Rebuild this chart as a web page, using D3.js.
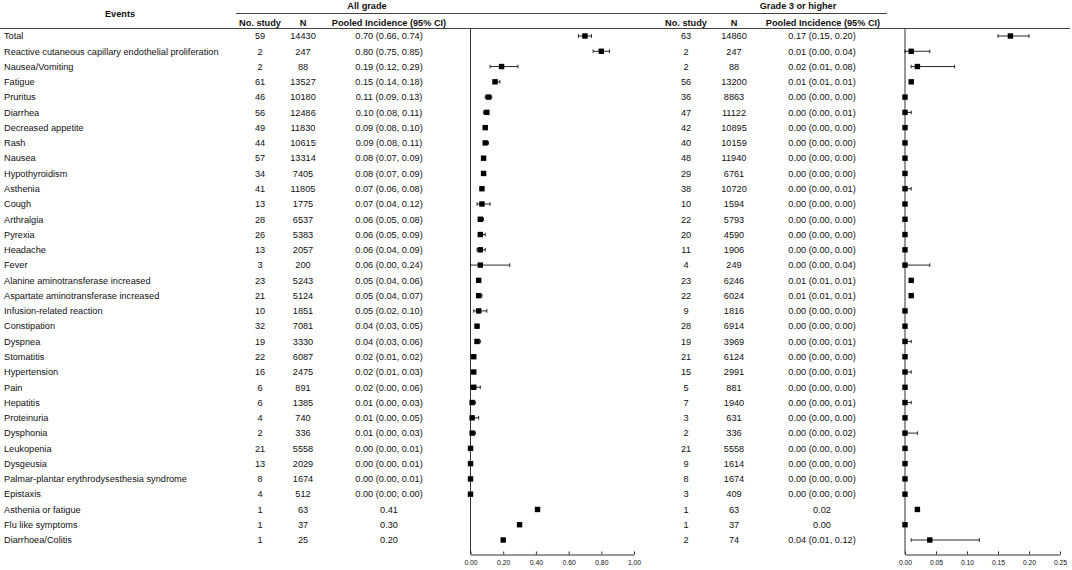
<!DOCTYPE html>
<html>
<head>
<meta charset="utf-8">
<script src="https://cdn.jsdelivr.net/npm/d3@7"></script>
<style>
  body { margin: 0; background: #fff; }
  text { font-family: "Liberation Sans", Arial, sans-serif; fill: #111; }
</style>
</head>
<body>
<script>
const width = 1072;
const height = 570;

// rows
const events = ["Total", "Reactive cutaneous capillary endothelial proliferation", "Nausea/Vomiting",
  "Fatigue", "Pruritus", "Diarrhea", "Decreased appetite", "Rash", "Nausea", "Hypothyroidism",
  "Asthenia", "Cough", "Arthralgia", "Pyrexia", "Headache", "Fever",
  "Alanine aminotransferase increased", "Aspartate aminotransferase increased",
  "Infusion-related reaction", "Constipation", "Dyspnea", "Stomatitis", "Hypertension", "Pain",
  "Hepatitis", "Proteinuria", "Dysphonia", "Leukopenia", "Dysgeusia",
  "Palmar-plantar erythrodysesthesia syndrome", "Epistaxis", "Asthenia or fatigue",
  "Flu like symptoms", "Diarrhoea/Colitis"];

// all grade
const allStudies = [59, 2, 2, 61, 46, 56, 49, 44, 57, 34, 41, 13, 28, 26, 13, 3, 23, 21, 10, 32, 19, 22, 16, 6, 6, 4, 2, 21, 13, 8, 4, 1, 1, 1];
const allN = [14430, 247, 88, 13527, 10180, 12486, 11830, 10615, 13314, 7405, 11805, 1775, 6537, 5383, 2057, 200, 5243, 5124, 1851, 7081, 3330, 6087, 2475, 891, 1385, 740, 336, 5558, 2029, 1674, 512, 63, 37, 25];
const allEst = [0.70, 0.80, 0.19, 0.15, 0.11, 0.10, 0.09, 0.09, 0.08, 0.08, 0.07, 0.07, 0.06, 0.06, 0.06, 0.06, 0.05, 0.05, 0.05, 0.04, 0.04, 0.02, 0.02, 0.02, 0.01, 0.01, 0.01, 0.00, 0.00, 0.00, 0.00, 0.41, 0.30, 0.20];
const allLo = [0.66, 0.75, 0.12, 0.14, 0.09, 0.08, 0.08, 0.08, 0.07, 0.07, 0.06, 0.04, 0.05, 0.05, 0.04, 0.00, 0.04, 0.04, 0.02, 0.03, 0.03, 0.01, 0.01, 0.00, 0.00, 0.00, 0.00, 0.00, 0.00, 0.00, 0.00, null, null, null];
const allHi = [0.74, 0.85, 0.29, 0.18, 0.13, 0.11, 0.10, 0.11, 0.09, 0.09, 0.08, 0.12, 0.08, 0.09, 0.09, 0.24, 0.06, 0.07, 0.10, 0.05, 0.06, 0.02, 0.03, 0.06, 0.03, 0.05, 0.03, 0.01, 0.01, 0.01, 0.00, null, null, null];

// grade 3 or higher
const g3Studies = [63, 2, 2, 56, 36, 47, 42, 40, 48, 29, 38, 10, 22, 20, 11, 4, 23, 22, 9, 28, 19, 21, 15, 5, 7, 3, 2, 21, 9, 8, 3, 1, 1, 2];
const g3N = [14860, 247, 88, 13200, 8863, 11122, 10895, 10159, 11940, 6761, 10720, 1594, 5793, 4590, 1906, 249, 6246, 6024, 1816, 6914, 3969, 6124, 2991, 881, 1940, 631, 336, 5558, 1614, 1674, 409, 63, 37, 74];
const g3Est = [0.17, 0.01, 0.02, 0.01, 0.00, 0.00, 0.00, 0.00, 0.00, 0.00, 0.00, 0.00, 0.00, 0.00, 0.00, 0.00, 0.01, 0.01, 0.00, 0.00, 0.00, 0.00, 0.00, 0.00, 0.00, 0.00, 0.00, 0.00, 0.00, 0.00, 0.00, 0.02, 0.00, 0.04];
const g3Lo = [0.15, 0.00, 0.01, 0.01, 0.00, 0.00, 0.00, 0.00, 0.00, 0.00, 0.00, 0.00, 0.00, 0.00, 0.00, 0.00, 0.01, 0.01, 0.00, 0.00, 0.00, 0.00, 0.00, 0.00, 0.00, 0.00, 0.00, 0.00, 0.00, 0.00, 0.00, null, null, 0.01];
const g3Hi = [0.20, 0.04, 0.08, 0.01, 0.00, 0.01, 0.00, 0.00, 0.00, 0.00, 0.01, 0.00, 0.00, 0.00, 0.00, 0.04, 0.01, 0.01, 0.00, 0.00, 0.01, 0.00, 0.01, 0.00, 0.01, 0.00, 0.02, 0.00, 0.00, 0.00, 0.00, null, null, 0.12];

const allTicks = [0, 0.2, 0.4, 0.6, 0.8, 1.0];
const g3Ticks = [0, 0.05, 0.10, 0.15, 0.20, 0.25];

const fs = 9.2;
const svg = d3.select('body')
    .append('svg')
    .attr('width', width)
    .attr('height', height);

const y = d3.scalePoint().domain(events).range([36, 540]);
const fmtCI = (e, l, h) => l == null ? e.toFixed(2) : `${e.toFixed(2)} (${l.toFixed(2)}, ${h.toFixed(2)})`;

// header
const head = svg.append('g').attr('font-weight', 'bold').attr('font-size', fs).attr('text-anchor', 'middle');
head.append('text').attr('x', 120).attr('y', 16.5).text('Events');
head.append('text').attr('x', 367).attr('y', 9).text('All grade');
head.append('text').attr('x', 798).attr('y', 9).text('Grade 3 or higher');
[[260, 'No. study'], [303, 'N'], [389, 'Pooled Incidence (95% CI)'],
 [686, 'No. study'], [734, 'N'], [823, 'Pooled Incidence (95% CI)']].forEach(([x, t]) => {
    head.append('text').attr('x', x).attr('y', 25.5).text(t);
});
svg.append('line').attr('x1', 236).attr('x2', 887).attr('y1', 13.5).attr('y2', 13.5)
    .attr('stroke', '#444').attr('stroke-width', 1);
svg.append('line').attr('x1', 0).attr('x2', 1070).attr('y1', 28.5).attr('y2', 28.5)
    .attr('stroke', '#444').attr('stroke-width', 1);

// table text
const rows = svg.append('g').attr('font-size', fs);
events.forEach((ev, i) => {
    const yy = y(ev) + 3.3;
    rows.append('text').attr('x', 4).attr('y', yy).text(ev);
    const cells = [
        [260, allStudies[i]], [303, allN[i]], [389, fmtCI(allEst[i], allLo[i], allHi[i])],
        [686, g3Studies[i]], [734, g3N[i]], [822, fmtCI(g3Est[i], g3Lo[i], g3Hi[i])]
    ];
    cells.forEach(([x, t]) => {
        rows.append('text').attr('x', x).attr('y', yy).attr('text-anchor', 'middle').text(t);
    });
});

// forest panels
function forest(x0, x1, domain, ticks, est, lo, hi) {
    const x = d3.scaleLinear().domain(domain).range([x0, x1]);
    const g = svg.append('g');
    g.append('line').attr('x1', x0).attr('x2', x0).attr('y1', 28.5).attr('y2', 554.5)
        .attr('stroke', '#333').attr('stroke-width', 1);
    const ax = g.append('g').attr('transform', 'translate(0,554.5)')
        .call(d3.axisBottom(x).tickValues(ticks).tickFormat(d3.format('.2f')).tickSizeInner(-3).tickSizeOuter(0).tickPadding(6));
    ax.select('.domain').attr('stroke', '#333');
    ax.selectAll('.tick line').attr('stroke', '#333');
    ax.selectAll('text').attr('font-size', 6.8).attr('font-family', '"Liberation Sans", Arial, sans-serif').attr('fill', '#111');

    const rowsG = g.selectAll('g.row').data(events).enter().append('g').attr('class', 'row');
    rowsG.filter((d, i) => lo[i] != null).each(function (d, i) {
        const k = events.indexOf(d);
        const sel = d3.select(this);
        const yy = y(d);
        sel.append('line').attr('x1', x(lo[k])).attr('x2', x(hi[k])).attr('y1', yy).attr('y2', yy)
            .attr('stroke', '#111').attr('stroke-width', 0.9);
        [lo[k], hi[k]].forEach(v => {
            sel.append('line').attr('x1', x(v)).attr('x2', x(v)).attr('y1', yy - 1.8).attr('y2', yy + 1.8)
                .attr('stroke', '#111').attr('stroke-width', 0.9);
        });
    });
    rowsG.append('rect')
        .attr('x', (d, i) => x(est[i]) - 2.7)
        .attr('y', d => y(d) - 2.7)
        .attr('width', 5.4)
        .attr('height', 5.4)
        .attr('fill', '#000');
}

forest(470.5, 634, [0, 1], allTicks, allEst, allLo, allHi);
forest(905, 1060, [0, 0.25], g3Ticks, g3Est, g3Lo, g3Hi);
</script>
</body>
</html>
